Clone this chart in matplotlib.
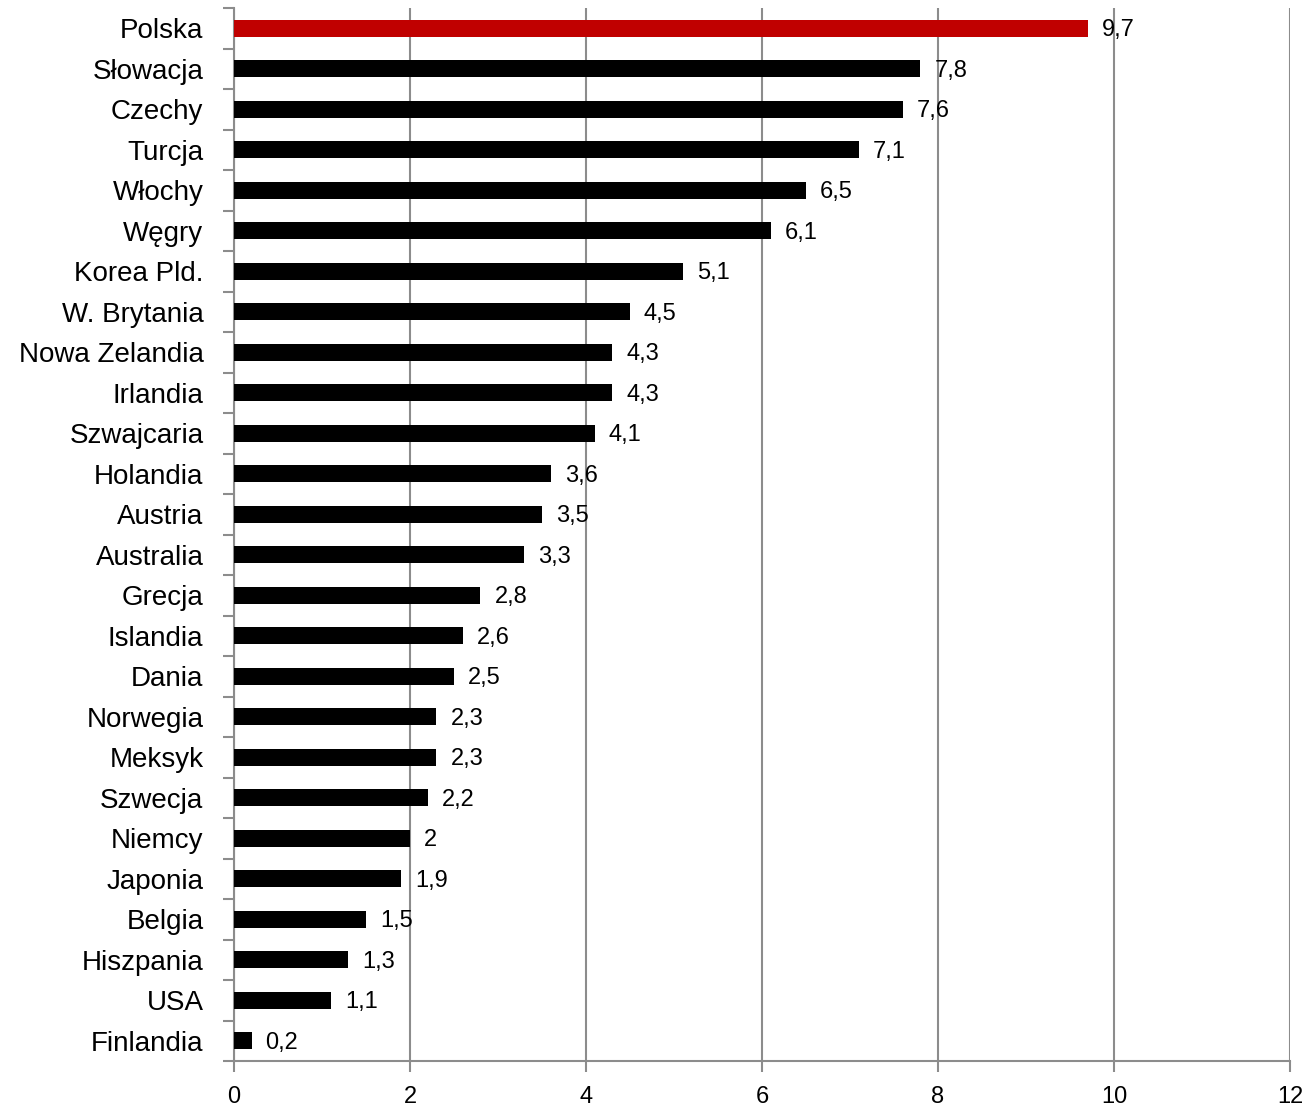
import matplotlib
matplotlib.use("Agg")
import matplotlib.pyplot as plt
from matplotlib import font_manager
import numpy as np

countries = ["Polska", "Słowacja", "Czechy", "Turcja", "Włochy", "Węgry", "Korea Pld.",
             "W. Brytania", "Nowa Zelandia", "Irlandia", "Szwajcaria", "Holandia", "Austria",
             "Australia", "Grecja", "Islandia", "Dania", "Norwegia", "Meksyk", "Szwecja",
             "Niemcy", "Japonia", "Belgia", "Hiszpania", "USA", "Finlandia"]
values = [9.7, 7.8, 7.6, 7.1, 6.5, 6.1, 5.1, 4.5, 4.3, 4.3, 4.1, 3.6, 3.5, 3.3, 2.8, 2.6,
          2.5, 2.3, 2.3, 2.2, 2.0, 1.9, 1.5, 1.3, 1.1, 0.2]
value_labels = ["9,7", "7,8", "7,6", "7,1", "6,5", "6,1", "5,1", "4,5", "4,3", "4,3", "4,1",
                "3,6", "3,5", "3,3", "2,8", "2,6", "2,5", "2,3", "2,3", "2,2", "2", "1,9",
                "1,5", "1,3", "1,1", "0,2"]
xticks = [0, 2, 4, 6, 8, 10, 12]
highlight = "Polska"

avail = {f.name for f in font_manager.fontManager.ttflist}
fam = ["Liberation Sans Narrow", "DejaVu Sans"] if "Liberation Sans Narrow" in avail else ["Liberation Sans", "DejaVu Sans"]
plt.rcParams["font.family"] = fam

fig = plt.figure(figsize=(13.1, 11.07), dpi=100)
ax = fig.add_axes([234/1310, 1 - 1061/1107, (1290-234)/1310, (1061-8)/1107])

n = len(countries)
y = np.arange(n)
colors = ["#C00000" if c == highlight else "black" for c in countries]
ax.barh(y, values, height=0.42, color=colors, zorder=3)
ax.set_ylim(n - 0.5, -0.5)
ax.set_xlim(0, 12)

gray = "#8c8c8c"
ax.set_xticks(xticks)
ax.set_xticklabels([str(t) for t in xticks], fontsize=17)
ax.xaxis.grid(True, color=gray, linewidth=1.5, zorder=0)
ax.set_axisbelow(True)
for s in ["top", "right"]:
    ax.spines[s].set_visible(False)
for s in ["left", "bottom"]:
    ax.spines[s].set_color(gray)
    ax.spines[s].set_linewidth(1.5)

ax.set_yticks(np.arange(-0.5, n, 1.0))
ax.set_yticklabels([])
ax.set_yticks(y, minor=True)
ax.set_yticklabels(countries, minor=True, fontsize=20)
ax.tick_params(axis="y", which="major", length=8, width=1.5, color=gray, direction="out")
ax.tick_params(axis="y", which="minor", length=0, pad=22)
ax.tick_params(axis="x", length=8, width=1.5, color=gray, direction="out", pad=10)

for yi, v, lab in zip(y, values, value_labels):
    ax.annotate(lab, (v, yi), xytext=(14, -2), textcoords="offset pixels",
                va="center", ha="left", fontsize=17, zorder=4)

fig.savefig("out.png", dpi=100)
